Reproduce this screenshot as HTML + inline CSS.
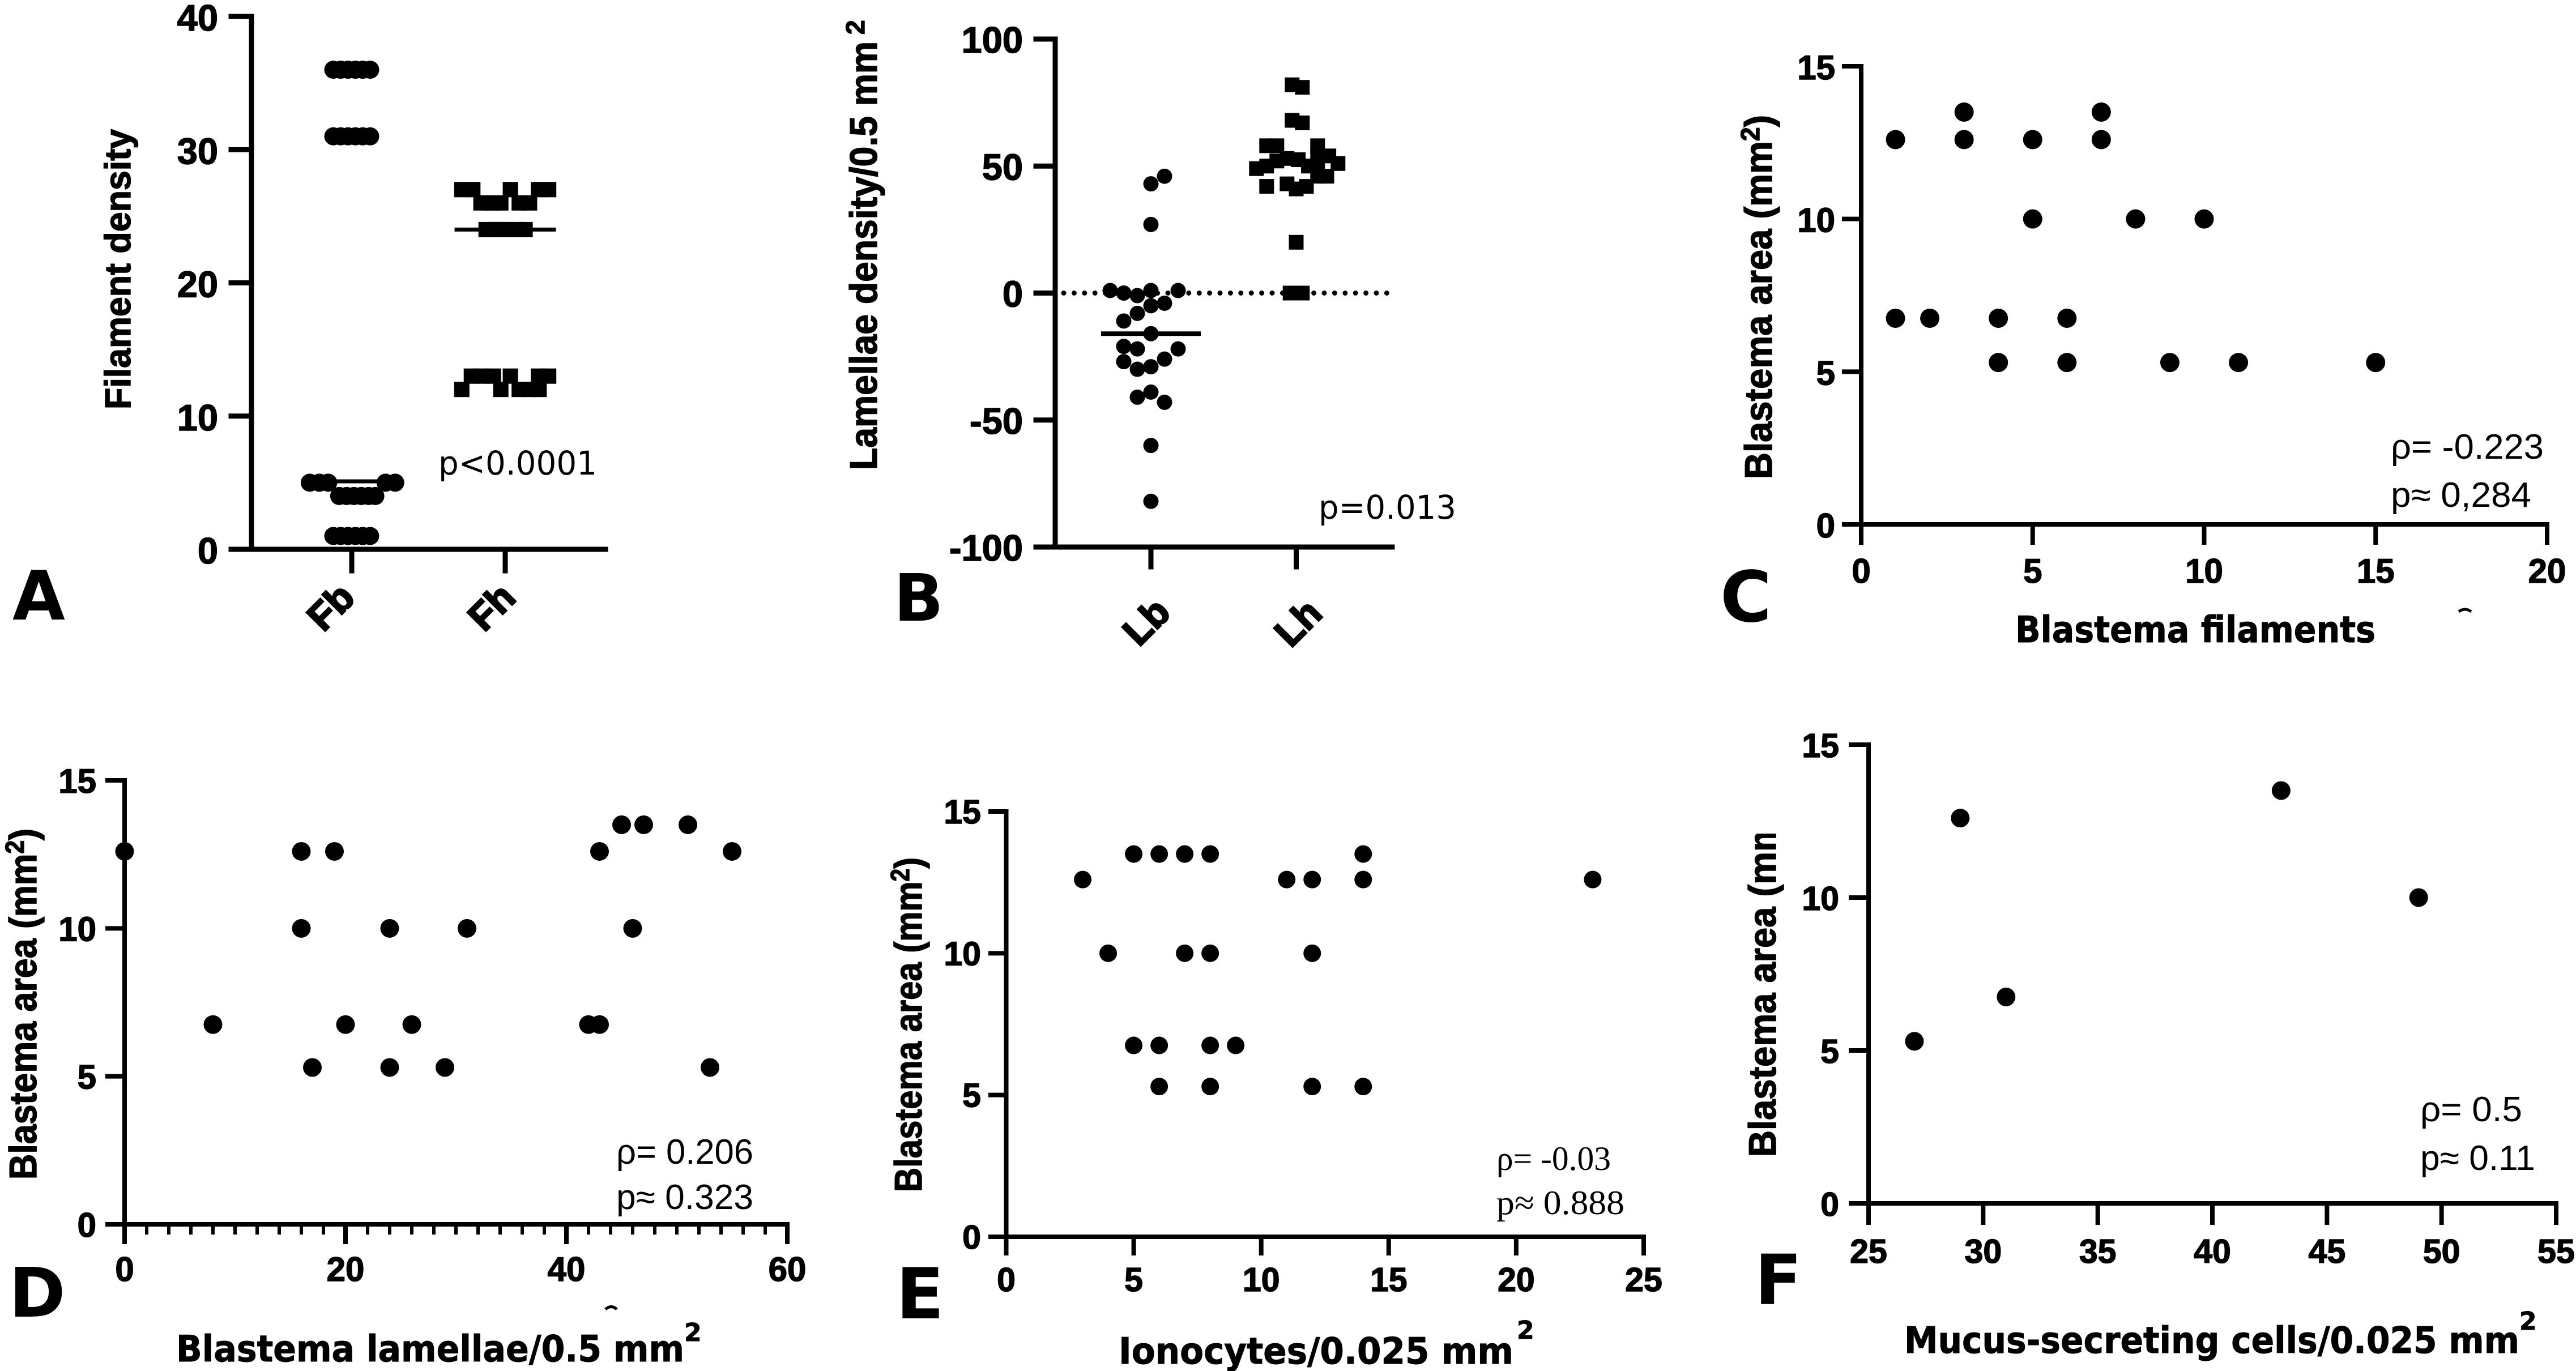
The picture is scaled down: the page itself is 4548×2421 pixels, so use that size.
<!DOCTYPE html>
<html lang="en">
<head>
<meta charset="utf-8">
<title>Blastema density and correlation panels</title>
<style>
html,body{margin:0;padding:0;background:#fff;}
svg{display:block;}
text{fill:#000;}
.tick{font-family:"Liberation Sans",sans-serif;font-weight:700;stroke:#000;stroke-width:1.5px;}
.cat{font-family:"Liberation Sans",sans-serif;font-weight:700;stroke:#000;stroke-width:3px;}
.ylab{font-family:"Liberation Sans",sans-serif;font-weight:700;stroke:#000;stroke-width:1.5px;}
.xlab{font-family:"DejaVu Sans",sans-serif;font-weight:700;stroke:#000;stroke-width:1px;}
.letter{font-family:"DejaVu Sans",sans-serif;font-weight:700;}
.stat{font-family:"Liberation Sans",sans-serif;font-size:62px;}
.pval{font-family:"DejaVu Sans",sans-serif;font-size:58px;}
.serif{font-family:"Liberation Serif",serif;font-size:60px;}
</style>
</head>
<body>
<svg id="figure" xmlns="http://www.w3.org/2000/svg" width="4548" height="2421" viewBox="0 0 4548 2421">
<defs>
<clipPath id="clip-f-label"><rect x="3000" y="1472" width="300" height="700"/></clipPath>
</defs>
<rect x="0" y="0" width="4548" height="2421" fill="#fff"/>

<g id="panel-a">
<text class="letter" x="22" y="1094" font-size="120">A</text>
<text class="ylab" transform="translate(230,723) rotate(-90)" font-size="64" textLength="495" lengthAdjust="spacingAndGlyphs">Filament density</text>
<text class="pval" x="774" y="838" textLength="280" lengthAdjust="spacingAndGlyphs">p&lt;0.0001</text>
</g>

<g id="panel-b">
<text class="letter" x="1578" y="1096" font-size="115">B</text>
<text class="ylab" transform="translate(1548,830) rotate(-90)" font-size="68" textLength="757" lengthAdjust="spacingAndGlyphs">Lamellae density/0.5 mm</text>
<text class="ylab" transform="translate(1526,61) rotate(-90)" font-size="46">2</text>
<text class="pval" x="2328" y="916" textLength="243" lengthAdjust="spacingAndGlyphs">p=0.013</text>
</g>

<g id="panel-c">
<text class="letter" x="3037" y="1097" font-size="124">C</text>
<text class="ylab" transform="translate(3128,846) rotate(-90)" font-size="68" textLength="643" lengthAdjust="spacingAndGlyphs">Blastema area (mm<tspan font-size="46" dy="-22">2</tspan><tspan dy="22">)</tspan></text>
<text class="xlab" x="3558" y="1134" font-size="64" textLength="636" lengthAdjust="spacingAndGlyphs">Blastema filaments</text>
<text class="stat" x="4221" y="810" textLength="270" lengthAdjust="spacingAndGlyphs">ρ= -0.223</text>
<text class="stat" x="4221" y="895" textLength="248" lengthAdjust="spacingAndGlyphs">p≈ 0,284</text>
<path d="M4341 1080 Q4352 1072 4363 1080" fill="none" stroke="#000" stroke-width="5"/>
</g>

<g id="panel-d">
<text class="letter" x="16" y="2325" font-size="120">D</text>
<text class="ylab" transform="translate(64,2083) rotate(-90)" font-size="68" textLength="620" lengthAdjust="spacingAndGlyphs">Blastema area (mm<tspan font-size="46" dy="-22">2</tspan><tspan dy="22">)</tspan></text>
<text class="xlab" x="311" y="2404" font-size="64" textLength="897" lengthAdjust="spacingAndGlyphs">Blastema lamellae/0.5 mm</text>
<text class="xlab" x="1208" y="2368" font-size="44">2</text>
<text class="stat" x="1088" y="2055" textLength="242" lengthAdjust="spacingAndGlyphs">ρ= 0.206</text>
<text class="stat" x="1088" y="2135" textLength="242" lengthAdjust="spacingAndGlyphs">p≈ 0.323</text>
<path d="M1069 2312 Q1079 2303 1089 2312" fill="none" stroke="#000" stroke-width="5"/>
</g>

<g id="panel-e">
<text class="letter" x="1582" y="2328" font-size="124">E</text>
<text class="ylab" transform="translate(1627,2105) rotate(-90)" font-size="68" textLength="591" lengthAdjust="spacingAndGlyphs">Blastema area (mm<tspan font-size="46" dy="-22">2</tspan><tspan dy="22">)</tspan></text>
<text class="xlab" x="1975" y="2408" font-size="64" textLength="697" lengthAdjust="spacingAndGlyphs">Ionocytes/0.025 mm</text>
<text class="xlab" x="2678" y="2364" font-size="44">2</text>
<text class="serif" x="2642" y="2066" textLength="202" lengthAdjust="spacingAndGlyphs">ρ= -0.03</text>
<text class="serif" x="2642" y="2144" textLength="226" lengthAdjust="spacingAndGlyphs">p≈  0.888</text>
</g>

<g id="panel-f">
<text class="letter" x="3098" y="2303" font-size="122">F</text>
<g clip-path="url(#clip-f-label)">
<text class="ylab" transform="translate(3135,2043) rotate(-90)" font-size="68" textLength="643" lengthAdjust="spacingAndGlyphs">Blastema area (mm<tspan font-size="46" dy="-22">2</tspan><tspan dy="22">)</tspan></text>
</g>
<text class="xlab" x="3362" y="2389" font-size="64" textLength="1086" lengthAdjust="spacingAndGlyphs">Mucus-secreting cells/0.025 mm</text>
<text class="xlab" x="4448" y="2348" font-size="44">2</text>
<text class="stat" x="4273" y="1980" textLength="180" lengthAdjust="spacingAndGlyphs">ρ= 0.5</text>
<text class="stat" x="4273" y="2066" textLength="203" lengthAdjust="spacingAndGlyphs">p≈ 0.11</text>
</g>
</svg>

<script>
// ---------- Panel A data ----------
const aCategories = ['Fb', 'Fh'];
const aYTicks = [0, 10, 20, 30, 40];
const fbValues = [36,36,36,36,36,36, 31,31,31,31,31,31, 5,5,5,5,5, 4,4,4,4,4,4, 1,1,1,1,1,1];
const fbSlots = [-2.5,-1.5,-0.5,0.5,1.5,2.5, -2.5,-1.5,-0.5,0.5,1.5,2.5, -5.7,-4.4,-3.2,4.6,5.9, -1.7,-0.7,0.3,1.3,2.3,3.2, -2.5,-1.5,-0.5,0.5,1.5,2.5];
const fhValues = [27,27,27,27,27, 26,26,26,26,26, 24,24,24,24,24, 13,13,13,13,13,13, 12,12,12,12,12];
const fhSlots = [-5.9,-4.4,0.7,4.5,5.9, -3.3,-1.8,-0.6,1.9,3.3, -2.6,-1.2,0,1.5,2.7, -4.6,-3.1,-1.6,0.7,4.5,5.9, -5.9,-0.6,1.9,3.2,4.6];
const aMeans = [5.1, 24];

// ---------- Panel B data ----------
const bCategories = ['Lb', 'Lh'];
const bYTicks = [-100, -50, 0, 50, 100];
const lbValues = [46,43,27, 1,0,-1,1,1, -4,-5,-8,-11,-16, -21,-22,-22,-26,-27,-29,-30, -39,-41,-43,-60,-82];
const lbSlots = [1,0,0, -3,-2,-1,0,2, 1,0,-1,-2,0, -2,-1,2,1,-2,0,-1, 0,-1,1,0,0];
const lhValues = [82,81,68,67, 58,58,58, 54,54,53,52.5, 49,50,52,51,50,50,46,46, 42,43,41,42, 20, 0,0,0];
const lhSlots = [-0.4,0.6,-0.4,0.6, -2.9,-1.9,2.1, 2.1,3.2,-0.9,0.2, -3.9,-2.9,-1.9,4.1,1.2,2.1,3,2.1, -2.9,-0.9,0,1, 0, -0.6,0,0.6];
const bMeans = [-16, 51];

// ---------- Scatter data (x = panel measure, y = blastema area) ----------
const cXTicks = [0, 5, 10, 15, 20];
const cYTicks = [0, 5, 10, 15];
const cXValues = [1,3,3,5,7,7,5,8,10,1,2,4,6,4,6,9,11,15];
const cYValues = [12.6,13.5,12.6,12.6,13.5,12.6,10,10,10,6.75,6.75,6.75,6.75,5.3,5.3,5.3,5.3,5.3];

const dXTicks = [0, 20, 40, 60];
const dXMinorTicks = [2,4,6,8,10,12,14,16,18,22,24,26,28,30,32,34,36,38,42,44,46,48,50,52,54,56,58];
const dYTicks = [0, 5, 10, 15];
const dXValues = [0,16,19,43,55,45,47,51,16,24,31,46,8,20,26,42,43,17,24,29,53];
const dYValues = [12.6,12.6,12.6,12.6,12.6,13.5,13.5,13.5,10,10,10,10,6.75,6.75,6.75,6.75,6.75,5.3,5.3,5.3,5.3];

const eXTicks = [0, 5, 10, 15, 20, 25];
const eYTicks = [0, 5, 10, 15];
const eXValues = [5,6,7,8,14,3,11,12,14,23,4,7,8,12,5,6,8,9,6,8,12,14];
const eYValues = [13.5,13.5,13.5,13.5,13.5,12.6,12.6,12.6,12.6,12.6,10,10,10,10,6.75,6.75,6.75,6.75,5.3,5.3,5.3,5.3];

const fXTicks = [25, 30, 35, 40, 45, 50, 55];
const fYTicks = [0, 5, 10, 15];
const fXValues = [27,29,31,43,49];
const fYValues = [5.3,12.6,6.75,13.5,10];

// ---------- Helpers ----------
const SVGNS = 'http://www.w3.org/2000/svg';
function make(tag, parent, props) {
  const el = document.createElementNS(SVGNS, tag);
  for (const k in props) el.setAttribute(k, props[k]);
  parent.appendChild(el);
  return el;
}
function linear(d0, d1, r0, r1) {
  return function (v) { return r0 + (v - d0) / (d1 - d0) * (r1 - r0); };
}
function line(parent, x1, y1, x2, y2, w, name) {
  const el = make('line', parent, {x1: x1, y1: y1, x2: x2, y2: y2, stroke: '#000', 'stroke-width': w, 'stroke-linecap': 'square'});
  
  
  return el;
}
function yAxis(parent, y, ticks, L) {
  line(parent, L.axisX, y(ticks[0]), L.axisX, y(ticks[ticks.length - 1]), L.lw, 'y-axis-line');
  ticks.forEach(function (t) {
    line(parent, L.tickLeft, y(t), L.axisX, y(t), L.tw, 'y-tick');
    const label = make('text', parent, {class: 'tick', x: L.labelRight, y: y(t) + L.labelDy, 'text-anchor': 'end', 'font-size': L.fs});
    label.textContent = String(t);
    
    
  });
}
function xAxisLine(parent, L, right) {
  line(parent, L.axisX, L.axisY, right, L.axisY, L.tw, 'x-axis-line');
}
function xNumericAxis(parent, x, ticks, L) {
  ticks.forEach(function (t) {
    line(parent, x(t), L.axisY, x(t), L.tickBottom, L.lw, 'x-tick');
    const label = make('text', parent, {class: 'tick', x: x(t), y: L.xLabelY, 'text-anchor': 'middle', 'font-size': L.fs});
    label.textContent = String(t);
    
    
  });
}
function dots(parent, xs, ys, r) {
  xs.forEach(function (xv, i) {
    const el = make('circle', parent, {cx: xv, cy: ys[i], r: r, fill: '#000'});
    
    
  });
}
function squares(parent, xs, ys, s) {
  xs.forEach(function (xv, i) {
    const el = make('rect', parent, {x: xv - s / 2, y: ys[i] - s / 2, width: s, height: s, fill: '#000'});
    
    
  });
}
function categoryAxis(parent, cats, centers, labelPos, L) {
  cats.forEach(function (c, i) {
    line(parent, centers[i], L.axisY, centers[i], L.tickBottom, L.lw, 'x-tick');
    const p = labelPos[i];
    const label = make('text', parent, {class: 'cat', 'text-anchor': 'middle', 'dominant-baseline': 'central', 'font-size': L.catFs, transform: 'translate(' + p[0] + ',' + p[1] + ') rotate(-45)'});
    label.textContent = c;
    
    
  });
}
function panel(id) { return document.getElementById(id); }

// ---------- Panel A ----------
(function () {
  const g = panel('panel-a');
  const L = {axisX: 444, axisY: 970, tickLeft: 408, labelRight: 385, labelDy: 25, fs: 65, lw: 9, tw: 9, tickBottom: 1008, catFs: 68};
  const y = linear(0, 40, 970, 29);
  const catX = linear(1, 2, 621, 892);
  const slot = 13;
  yAxis(g, y, aYTicks, L);
  xAxisLine(g, L, 1069);
  categoryAxis(g, aCategories, [catX(1), catX(2)], [[584, 1072], [868, 1072]], L);
  aMeans.forEach(function (m, i) {
    line(g, catX(i + 1) - 86, y(m), catX(i + 1) + 86, y(m), 7, 'mean-line');
  });
  dots(g, fbSlots.map(function (s) { return catX(1) + s * slot; }), fbValues.map(y), 16);
  squares(g, fhSlots.map(function (s) { return catX(2) + s * slot; }), fhValues.map(y), 27);
})();

// ---------- Panel B ----------
(function () {
  const g = panel('panel-b');
  const L = {axisX: 1863, axisY: 966, tickLeft: 1829, labelRight: 1806, labelDy: 24, fs: 65, lw: 9, tw: 9, tickBottom: 1001, catFs: 68};
  const y = linear(-100, 100, 966, 69);
  const catX = linear(1, 2, 2032, 2288.5);
  const lbStep = 24;
  const lhStep = 18;
  yAxis(g, y, bYTicks, L);
  xAxisLine(g, L, 2458);
  categoryAxis(g, bCategories, [catX(1), catX(2)], [[2024, 1098], [2292, 1100]], L);
  const zero = make('line', g, {x1: 1878, y1: y(0), x2: 2464, y2: y(0), stroke: '#000', 'stroke-width': 9, 'stroke-linecap': 'round', 'stroke-dasharray': '0 18.4'});
  
  
  dots(g, lbSlots.map(function (s) { return catX(1) + s * lbStep; }), lbValues.map(y), 13.5);
  squares(g, lhSlots.map(function (s) { return catX(2) + s * lhStep; }), lhValues.map(y), 26);
  line(g, catX(1) - 84, y(bMeans[0]), catX(1) + 84, y(bMeans[0]), 8, 'mean-line');
})();

// ---------- Panel C ----------
(function () {
  const g = panel('panel-c');
  const L = {axisX: 3286, axisY: 926, tickLeft: 3256, labelRight: 3240, labelDy: 23, fs: 60, lw: 8, tw: 8, tickBottom: 958, xLabelY: 1029};
  const x = linear(0, 20, 3286, 4497);
  const y = linear(0, 15, 926, 117);
  yAxis(g, y, cYTicks, L);
  xAxisLine(g, L, 4497);
  xNumericAxis(g, x, cXTicks, L);
  dots(g, cXValues.map(x), cYValues.map(y), 17);
})();

// ---------- Panel D ----------
(function () {
  const g = panel('panel-d');
  const L = {axisX: 220, axisY: 2162, tickLeft: 190, labelRight: 170, labelDy: 22, fs: 60, lw: 8, tw: 8, tickBottom: 2193, xLabelY: 2262};
  const x = linear(0, 60, 220, 1390);
  const y = linear(0, 15, 2162, 1378);
  yAxis(g, y, dYTicks, L);
  xAxisLine(g, L, 1390);
  xNumericAxis(g, x, dXTicks, L);
  dXMinorTicks.forEach(function (t) {
    const tick = make('line', g, {x1: x(t), y1: L.axisY, x2: x(t), y2: 2180, stroke: '#000', 'stroke-width': 6});
    
    
  });
  dots(g, dXValues.map(x), dYValues.map(y), 16.5);
})();

// ---------- Panel E ----------
(function () {
  const g = panel('panel-e');
  const L = {axisX: 1776.5, axisY: 2184, tickLeft: 1749, labelRight: 1732, labelDy: 21, fs: 59, lw: 8, tw: 8, tickBottom: 2213, xLabelY: 2280};
  const x = linear(0, 25, 1776.5, 2902);
  const y = linear(0, 15, 2184, 1433);
  yAxis(g, y, eYTicks, L);
  xAxisLine(g, L, 2902);
  xNumericAxis(g, x, eXTicks, L);
  dots(g, eXValues.map(x), eYValues.map(y), 15.5);
})();

// ---------- Panel F ----------
(function () {
  const g = panel('panel-f');
  const L = {axisX: 3299, axisY: 2125, tickLeft: 3268, labelRight: 3247, labelDy: 22, fs: 59, lw: 8, tw: 8, tickBottom: 2159, xLabelY: 2230};
  const x = linear(25, 55, 3299, 4513);
  const y = linear(0, 15, 2125, 1315);
  yAxis(g, y, fYTicks, L);
  xAxisLine(g, L, 4513);
  xNumericAxis(g, x, fXTicks, L);
  dots(g, fXValues.map(x), fYValues.map(y), 16.5);
})();
</script>
</body>
</html>
